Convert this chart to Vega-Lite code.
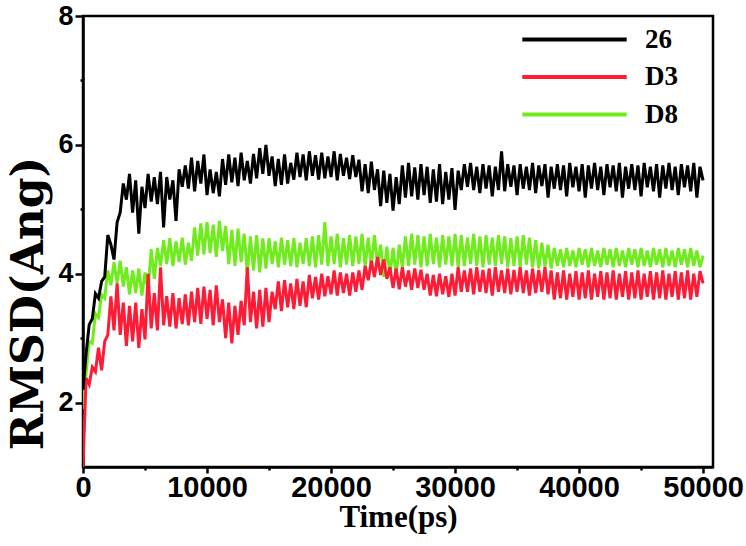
{
  "$schema": "https://vega.github.io/schema/vega-lite/v6.json",
  "width": 630,
  "height": 451,
  "autosize": {"type": "none"},
  "padding": {"left": 83, "top": 16, "right": 33, "bottom": 79},
  "background": "white",
  "config": {
    "view": {"stroke": "black", "strokeWidth": 2.5},
    "axis": {
      "domainColor": "black", "domainWidth": 2.5, "tickColor": "black", "tickWidth": 2.5,
      "labelColor": "black", "labelFont": "Liberation Sans", "labelFontWeight": "bold",
      "titleColor": "black", "titleFont": "Liberation Serif", "titleFontWeight": "bold",
      "grid": false, "labelOverlap": false, "labelFlush": false
    },
    "axisX": {"labelFontSize": 29, "labelPadding": 0, "titleFontSize": 31, "titleX": 315, "titleY": 59, "titleBaseline": "alphabetic", "titleAlign": "center"},
    "axisY": {"labelFontSize": 27, "labelPadding": 2, "titleFont": "DejaVu Serif", "titleFontSize": 44, "titleX": -41, "titleY": 287, "titleAngle": -90, "titleAlign": "center", "titleBaseline": "alphabetic"}
  },
  "data": {"values": [
    {"t":0,"26":2.20,"D3":1.00,"D8":1.90},
    {"t":250,"26":2.76,"D3":2.38,"D8":2.45},
    {"t":500,"26":3.21,"D3":2.28,"D8":2.95},
    {"t":750,"26":3.30,"D3":2.55,"D8":2.92},
    {"t":1000,"26":3.69,"D3":2.48,"D8":3.38},
    {"t":1250,"26":3.62,"D3":2.85,"D8":3.32},
    {"t":1500,"26":3.88,"D3":2.50,"D8":3.68},
    {"t":1750,"26":3.95,"D3":2.95,"D8":3.62},
    {"t":2000,"26":4.60,"D3":3.05,"D8":4.05},
    {"t":2250,"26":4.45,"D3":3.65,"D8":3.82},
    {"t":2500,"26":4.22,"D3":3.12,"D8":4.18},
    {"t":2750,"26":4.80,"D3":3.85,"D8":3.85},
    {"t":3000,"26":4.95,"D3":3.05,"D8":4.20},
    {"t":3250,"26":5.40,"D3":3.55,"D8":3.80},
    {"t":3500,"26":5.15,"D3":2.88,"D8":4.10},
    {"t":3750,"26":5.55,"D3":3.50,"D8":3.68},
    {"t":4000,"26":4.95,"D3":2.95,"D8":4.05},
    {"t":4250,"26":5.45,"D3":3.55,"D8":3.70},
    {"t":4500,"26":4.62,"D3":2.85,"D8":4.08},
    {"t":4750,"26":5.35,"D3":3.45,"D8":3.66},
    {"t":5000,"26":5.02,"D3":2.98,"D8":4.02},
    {"t":5250,"26":5.55,"D3":4.00,"D8":3.75},
    {"t":5500,"26":5.12,"D3":3.15,"D8":4.38},
    {"t":5750,"26":5.50,"D3":3.70,"D8":3.92},
    {"t":6000,"26":5.08,"D3":3.12,"D8":4.40},
    {"t":6250,"26":5.58,"D3":4.10,"D8":4.12},
    {"t":6500,"26":4.72,"D3":3.20,"D8":4.52},
    {"t":6750,"26":5.50,"D3":3.65,"D8":4.15},
    {"t":7000,"26":5.15,"D3":3.18,"D8":4.55},
    {"t":7250,"26":5.45,"D3":3.70,"D8":4.12},
    {"t":7500,"26":4.82,"D3":3.15,"D8":4.50},
    {"t":7750,"26":5.62,"D3":3.62,"D8":4.18},
    {"t":8000,"26":5.35,"D3":3.22,"D8":4.56},
    {"t":8250,"26":5.68,"D3":3.68,"D8":4.14},
    {"t":8500,"26":5.32,"D3":3.20,"D8":4.48},
    {"t":8750,"26":5.80,"D3":3.72,"D8":4.20},
    {"t":9000,"26":5.28,"D3":3.25,"D8":4.72},
    {"t":9250,"26":5.75,"D3":3.78,"D8":4.28},
    {"t":9500,"26":5.40,"D3":3.22,"D8":4.78},
    {"t":9750,"26":5.85,"D3":3.80,"D8":4.30},
    {"t":10000,"26":5.22,"D3":3.30,"D8":4.80},
    {"t":10250,"26":5.62,"D3":3.75,"D8":4.32},
    {"t":10500,"26":5.25,"D3":3.20,"D8":4.76},
    {"t":10750,"26":5.58,"D3":3.82,"D8":4.26},
    {"t":11000,"26":5.20,"D3":3.25,"D8":4.82},
    {"t":11250,"26":5.78,"D3":3.60,"D8":4.35},
    {"t":11500,"26":5.38,"D3":3.00,"D8":4.74},
    {"t":11750,"26":5.85,"D3":3.55,"D8":4.15},
    {"t":12000,"26":5.42,"D3":2.92,"D8":4.68},
    {"t":12250,"26":5.80,"D3":3.50,"D8":4.12},
    {"t":12500,"26":5.36,"D3":3.05,"D8":4.70},
    {"t":12750,"26":5.88,"D3":3.58,"D8":4.18},
    {"t":13000,"26":5.45,"D3":3.20,"D8":4.62},
    {"t":13250,"26":5.75,"D3":4.10,"D8":4.00},
    {"t":13500,"26":5.40,"D3":3.25,"D8":4.58},
    {"t":13750,"26":5.86,"D3":3.72,"D8":4.05},
    {"t":14000,"26":5.48,"D3":3.15,"D8":4.60},
    {"t":14250,"26":5.95,"D3":3.75,"D8":4.02},
    {"t":14500,"26":5.55,"D3":3.18,"D8":4.55},
    {"t":14750,"26":6.00,"D3":3.78,"D8":4.08},
    {"t":15000,"26":5.52,"D3":3.25,"D8":4.55},
    {"t":15250,"26":5.82,"D3":3.72,"D8":4.15},
    {"t":15500,"26":5.36,"D3":3.45,"D8":4.50},
    {"t":15750,"26":5.78,"D3":3.88,"D8":4.10},
    {"t":16000,"26":5.38,"D3":3.42,"D8":4.56},
    {"t":16250,"26":5.85,"D3":3.90,"D8":4.14},
    {"t":16500,"26":5.40,"D3":3.48,"D8":4.52},
    {"t":16750,"26":5.72,"D3":3.85,"D8":4.12},
    {"t":17000,"26":5.46,"D3":3.45,"D8":4.55},
    {"t":17250,"26":5.88,"D3":3.92,"D8":4.10},
    {"t":17500,"26":5.50,"D3":3.50,"D8":4.48},
    {"t":17750,"26":5.85,"D3":3.88,"D8":4.15},
    {"t":18000,"26":5.45,"D3":3.48,"D8":4.55},
    {"t":18250,"26":5.90,"D3":3.98,"D8":4.12},
    {"t":18500,"26":5.52,"D3":3.62,"D8":4.58},
    {"t":18750,"26":5.84,"D3":3.95,"D8":4.10},
    {"t":19000,"26":5.46,"D3":3.60,"D8":4.60},
    {"t":19250,"26":5.88,"D3":4.00,"D8":4.14},
    {"t":19500,"26":5.48,"D3":3.65,"D8":4.80},
    {"t":19750,"26":5.82,"D3":3.96,"D8":4.12},
    {"t":20000,"26":5.50,"D3":3.68,"D8":4.58},
    {"t":20250,"26":5.90,"D3":4.05,"D8":4.15},
    {"t":20500,"26":5.45,"D3":3.66,"D8":4.62},
    {"t":20750,"26":5.86,"D3":4.02,"D8":4.10},
    {"t":21000,"26":5.52,"D3":3.70,"D8":4.55},
    {"t":21250,"26":5.80,"D3":4.00,"D8":4.14},
    {"t":21500,"26":5.47,"D3":3.66,"D8":4.60},
    {"t":21750,"26":5.84,"D3":4.02,"D8":4.12},
    {"t":22000,"26":5.50,"D3":3.72,"D8":4.58},
    {"t":22250,"26":5.77,"D3":4.05,"D8":4.15},
    {"t":22500,"26":5.28,"D3":3.75,"D8":4.62},
    {"t":22750,"26":5.70,"D3":4.12,"D8":4.10},
    {"t":23000,"26":5.25,"D3":3.90,"D8":4.56},
    {"t":23250,"26":5.74,"D3":4.20,"D8":4.12},
    {"t":23500,"26":5.30,"D3":3.95,"D8":4.60},
    {"t":23750,"26":5.62,"D3":4.26,"D8":4.14},
    {"t":24000,"26":5.05,"D3":3.98,"D8":4.45},
    {"t":24250,"26":5.60,"D3":4.22,"D8":3.95},
    {"t":24500,"26":5.10,"D3":3.92,"D8":4.42},
    {"t":24750,"26":5.55,"D3":4.10,"D8":3.98},
    {"t":25000,"26":4.98,"D3":3.78,"D8":4.40},
    {"t":25250,"26":5.50,"D3":4.08,"D8":3.96},
    {"t":25500,"26":5.08,"D3":3.76,"D8":4.45},
    {"t":25750,"26":5.68,"D3":4.10,"D8":4.10},
    {"t":26000,"26":5.18,"D3":3.80,"D8":4.58},
    {"t":26250,"26":5.72,"D3":4.05,"D8":4.12},
    {"t":26500,"26":5.20,"D3":3.75,"D8":4.62},
    {"t":26750,"26":5.65,"D3":4.08,"D8":4.14},
    {"t":27000,"26":5.15,"D3":3.78,"D8":4.60},
    {"t":27250,"26":5.70,"D3":4.06,"D8":4.10},
    {"t":27500,"26":5.22,"D3":3.75,"D8":4.58},
    {"t":27750,"26":5.66,"D3":4.00,"D8":4.12},
    {"t":28000,"26":5.10,"D3":3.66,"D8":4.62},
    {"t":28250,"26":5.62,"D3":3.98,"D8":4.15},
    {"t":28500,"26":5.12,"D3":3.65,"D8":4.56},
    {"t":28750,"26":5.70,"D3":4.00,"D8":4.10},
    {"t":29000,"26":5.08,"D3":3.68,"D8":4.60},
    {"t":29250,"26":5.58,"D3":3.96,"D8":4.14},
    {"t":29500,"26":5.15,"D3":3.64,"D8":4.58},
    {"t":29750,"26":5.64,"D3":4.00,"D8":4.12},
    {"t":30000,"26":4.99,"D3":3.66,"D8":4.62},
    {"t":30250,"26":5.60,"D3":4.10,"D8":4.10},
    {"t":30500,"26":5.30,"D3":3.72,"D8":4.60},
    {"t":30750,"26":5.70,"D3":4.05,"D8":4.12},
    {"t":31000,"26":5.35,"D3":3.72,"D8":4.56},
    {"t":31250,"26":5.72,"D3":4.08,"D8":4.15},
    {"t":31500,"26":5.30,"D3":3.68,"D8":4.62},
    {"t":31750,"26":5.66,"D3":4.10,"D8":4.12},
    {"t":32000,"26":5.25,"D3":3.72,"D8":4.58},
    {"t":32250,"26":5.70,"D3":4.06,"D8":4.10},
    {"t":32500,"26":5.32,"D3":3.70,"D8":4.60},
    {"t":32750,"26":5.68,"D3":4.08,"D8":4.14},
    {"t":33000,"26":5.20,"D3":3.66,"D8":4.56},
    {"t":33250,"26":5.66,"D3":4.10,"D8":4.12},
    {"t":33500,"26":5.30,"D3":3.72,"D8":4.60},
    {"t":33750,"26":5.90,"D3":4.05,"D8":4.15},
    {"t":34000,"26":5.28,"D3":3.70,"D8":4.58},
    {"t":34250,"26":5.70,"D3":4.08,"D8":4.10},
    {"t":34500,"26":5.35,"D3":3.68,"D8":4.55},
    {"t":34750,"26":5.68,"D3":4.06,"D8":4.12},
    {"t":35000,"26":5.22,"D3":3.72,"D8":4.58},
    {"t":35250,"26":5.70,"D3":4.10,"D8":4.10},
    {"t":35500,"26":5.32,"D3":3.70,"D8":4.60},
    {"t":35750,"26":5.66,"D3":4.05,"D8":4.14},
    {"t":36000,"26":5.30,"D3":3.66,"D8":4.56},
    {"t":36250,"26":5.72,"D3":4.08,"D8":4.10},
    {"t":36500,"26":5.25,"D3":3.70,"D8":4.52},
    {"t":36750,"26":5.68,"D3":4.06,"D8":4.08},
    {"t":37000,"26":5.36,"D3":3.72,"D8":4.48},
    {"t":37250,"26":5.70,"D3":4.10,"D8":4.10},
    {"t":37500,"26":5.18,"D3":3.68,"D8":4.45},
    {"t":37750,"26":5.66,"D3":4.05,"D8":4.08},
    {"t":38000,"26":5.32,"D3":3.60,"D8":4.40},
    {"t":38250,"26":5.70,"D3":4.02,"D8":4.12},
    {"t":38500,"26":5.30,"D3":3.62,"D8":4.38},
    {"t":38750,"26":5.68,"D3":4.05,"D8":4.10},
    {"t":39000,"26":5.20,"D3":3.60,"D8":4.40},
    {"t":39250,"26":5.72,"D3":4.00,"D8":4.12},
    {"t":39500,"26":5.34,"D3":3.64,"D8":4.36},
    {"t":39750,"26":5.66,"D3":4.04,"D8":4.10},
    {"t":40000,"26":5.28,"D3":3.60,"D8":4.40},
    {"t":40250,"26":5.70,"D3":4.02,"D8":4.14},
    {"t":40500,"26":5.18,"D3":3.62,"D8":4.38},
    {"t":40750,"26":5.68,"D3":4.05,"D8":4.10},
    {"t":41000,"26":5.32,"D3":3.60,"D8":4.40},
    {"t":41250,"26":5.72,"D3":4.00,"D8":4.12},
    {"t":41500,"26":5.30,"D3":3.64,"D8":4.36},
    {"t":41750,"26":5.66,"D3":4.04,"D8":4.10},
    {"t":42000,"26":5.22,"D3":3.60,"D8":4.40},
    {"t":42250,"26":5.70,"D3":4.02,"D8":4.14},
    {"t":42500,"26":5.34,"D3":3.62,"D8":4.38},
    {"t":42750,"26":5.68,"D3":4.05,"D8":4.10},
    {"t":43000,"26":5.28,"D3":3.60,"D8":4.40},
    {"t":43250,"26":5.72,"D3":4.00,"D8":4.12},
    {"t":43500,"26":5.18,"D3":3.64,"D8":4.36},
    {"t":43750,"26":5.66,"D3":4.04,"D8":4.10},
    {"t":44000,"26":5.32,"D3":3.60,"D8":4.40},
    {"t":44250,"26":5.70,"D3":4.02,"D8":4.14},
    {"t":44500,"26":5.30,"D3":3.62,"D8":4.38},
    {"t":44750,"26":5.68,"D3":4.05,"D8":4.10},
    {"t":45000,"26":5.20,"D3":3.60,"D8":4.40},
    {"t":45250,"26":5.72,"D3":4.00,"D8":4.12},
    {"t":45500,"26":5.34,"D3":3.64,"D8":4.36},
    {"t":45750,"26":5.66,"D3":4.04,"D8":4.10},
    {"t":46000,"26":5.28,"D3":3.60,"D8":4.40},
    {"t":46250,"26":5.70,"D3":4.02,"D8":4.14},
    {"t":46500,"26":5.18,"D3":3.62,"D8":4.38},
    {"t":46750,"26":5.68,"D3":4.05,"D8":4.10},
    {"t":47000,"26":5.32,"D3":3.60,"D8":4.40},
    {"t":47250,"26":5.72,"D3":4.00,"D8":4.12},
    {"t":47500,"26":5.30,"D3":3.64,"D8":4.36},
    {"t":47750,"26":5.66,"D3":4.04,"D8":4.10},
    {"t":48000,"26":5.22,"D3":3.60,"D8":4.40},
    {"t":48250,"26":5.70,"D3":4.02,"D8":4.14},
    {"t":48500,"26":5.34,"D3":3.62,"D8":4.38},
    {"t":48750,"26":5.68,"D3":4.05,"D8":4.10},
    {"t":49000,"26":5.28,"D3":3.60,"D8":4.40},
    {"t":49250,"26":5.72,"D3":4.00,"D8":4.12},
    {"t":49500,"26":5.18,"D3":3.64,"D8":4.36},
    {"t":49750,"26":5.66,"D3":4.04,"D8":4.10},
    {"t":50000,"26":5.45,"D3":3.85,"D8":4.28}
  ]},
  "encoding": {
    "x": {
      "field": "t", "type": "quantitative",
      "scale": {"domain": [0, 50800], "nice": false, "zero": false},
      "axis": {
        "title": "Time(ps)", "format": "d",
        "values": [0, 5000, 10000, 15000, 20000, 25000, 30000, 35000, 40000, 45000, 50000],
        "labelExpr": "datum.value % 10000 === 0 ? datum.label : ''",
        "tickSize": {"condition": {"test": "datum.value % 10000 !== 0", "value": 3}, "value": 6}
      }
    }
  },
  "layer": [
    {
      "mark": {"type": "line", "strokeWidth": 3, "strokeJoin": "miter", "clip": true},
      "encoding": {
        "y": {"field": "D8", "type": "quantitative", "title": "RMSD(Ang)",
              "scale": {"domain": [1, 8], "nice": false, "zero": false},
              "axis": {"values": [2, 3, 4, 5, 6, 7, 8], "labelExpr": "datum.value % 2 === 0 ? datum.label : ''",
                       "tickSize": {"condition": {"test": "datum.value % 2 !== 0", "value": 3}, "value": 8}}},
        "color": {"datum": "D8", "type": "nominal",
                  "scale": {"domain": ["26", "D3", "D8"], "range": ["#000000", "#ff1a35", "#70ec1e"]},
                  "legend": {"orient": "none", "legendX": 437, "legendY": 10, "title": null, "padding": 0,
                             "symbolType": "stroke", "symbolSize": 10900, "symbolStrokeWidth": 4,
                             "clipHeight": 27,
                             "labelFont": "Liberation Serif", "labelFontWeight": "bold", "labelFontSize": 27,
                             "labelColor": "black", "labelOffset": 16, "rowPadding": 9.5}}
      }
    },
    {
      "mark": {"type": "line", "strokeWidth": 3, "strokeJoin": "miter", "clip": true},
      "encoding": {
        "y": {"field": "D3", "type": "quantitative", "title": "RMSD(Ang)",
              "scale": {"domain": [1, 8], "nice": false, "zero": false},
              "axis": {"values": [2, 3, 4, 5, 6, 7, 8], "labelExpr": "datum.value % 2 === 0 ? datum.label : ''",
                       "tickSize": {"condition": {"test": "datum.value % 2 !== 0", "value": 3}, "value": 8}}},
        "color": {"datum": "D3", "type": "nominal"}
      }
    },
    {
      "mark": {"type": "line", "strokeWidth": 3, "strokeJoin": "miter", "clip": true},
      "encoding": {
        "y": {"field": "26", "type": "quantitative", "title": "RMSD(Ang)",
              "scale": {"domain": [1, 8], "nice": false, "zero": false},
              "axis": {"values": [2, 3, 4, 5, 6, 7, 8], "labelExpr": "datum.value % 2 === 0 ? datum.label : ''",
                       "tickSize": {"condition": {"test": "datum.value % 2 !== 0", "value": 3}, "value": 8}}},
        "color": {"datum": "26", "type": "nominal"}
      }
    }
  ]
}
